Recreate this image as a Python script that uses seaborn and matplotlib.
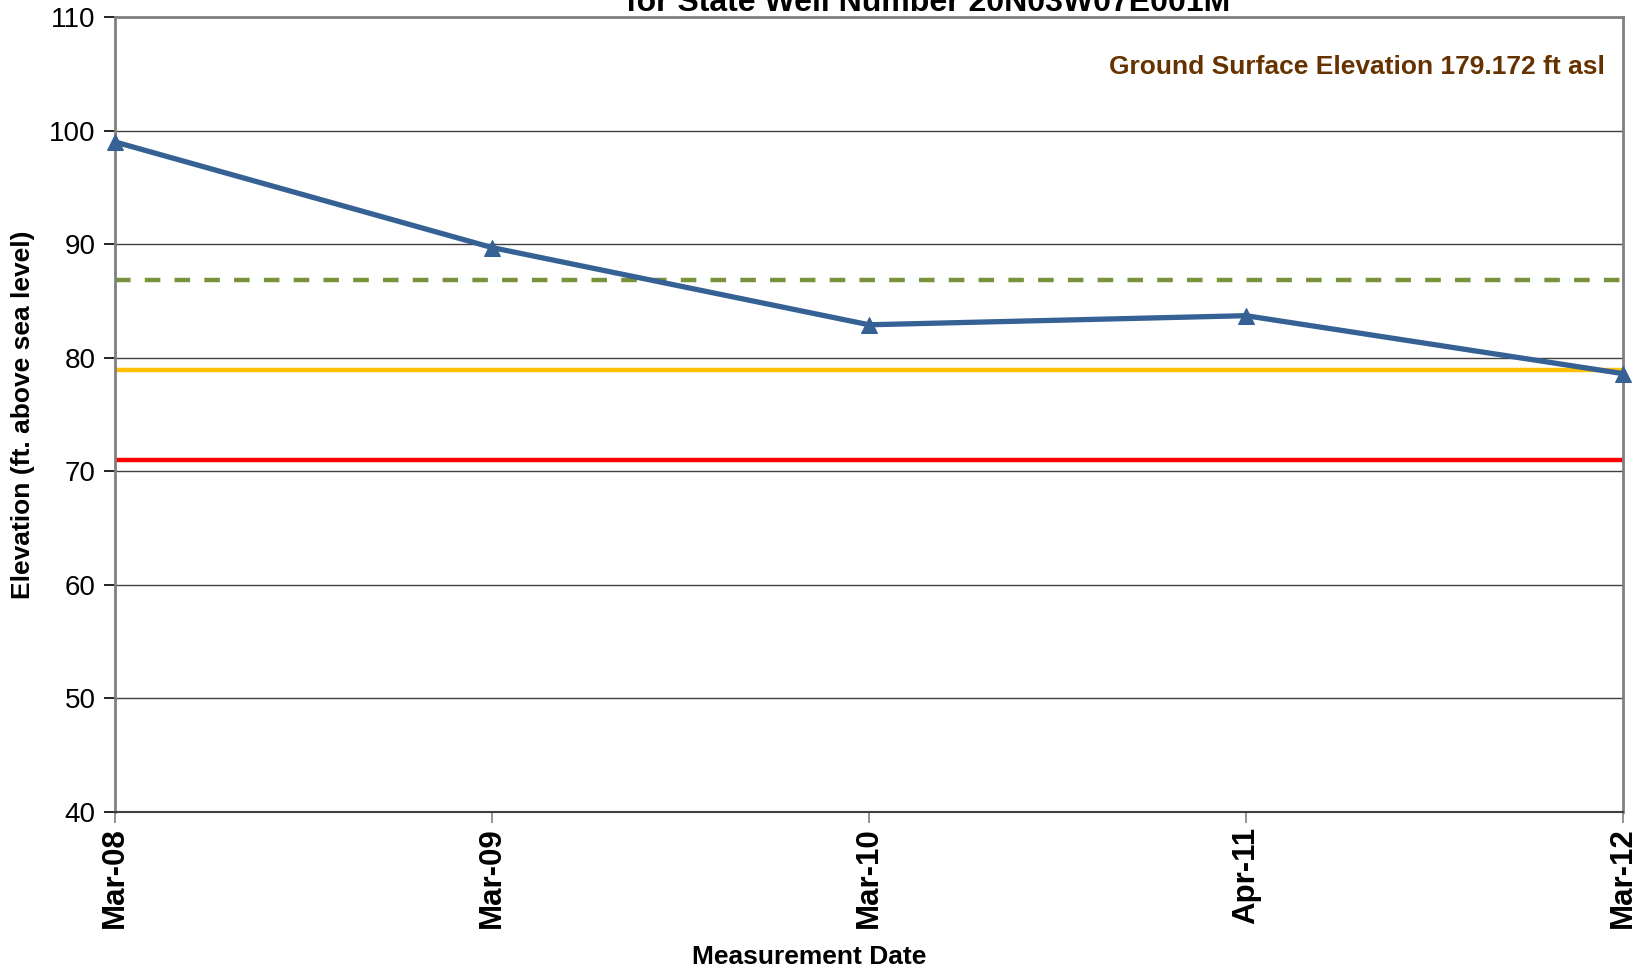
import matplotlib
matplotlib.use("Agg")
import matplotlib.pyplot as plt
import seaborn as sns
import pandas as pd

# Measurement dates and groundwater elevations (ft above sea level)
dates = ["Mar-08", "Mar-09", "Mar-10", "Apr-11", "Mar-12"]
elevations = [99.0, 89.7, 82.9, 83.7, 78.6]

# Reference levels
green_level = 86.8
yellow_level = 78.9
red_level = 71.0

y_ticks = [40, 50, 60, 70, 80, 90, 100, 110]

sns.set_theme(style="white")
plt.rcParams["font.family"] = ["Liberation Sans", "DejaVu Sans"]
plt.rcParams["text.color"] = "black"
plt.rcParams["axes.labelcolor"] = "black"

fig = plt.figure(figsize=(16.43, 9.72), dpi=100)
ax = fig.add_axes([115 / 1643, 1 - 812 / 972, (1623 - 115) / 1643, (812 - 17) / 972])

df = pd.DataFrame({"pos": range(len(dates)), "elev": elevations})

for y in y_ticks:
    ax.axhline(y, color="#404040", lw=1.0, zorder=1)

ax.axhline(green_level, color="#77933C", lw=3.2, ls=(0, (3.5, 3.2)), zorder=2)
ax.axhline(yellow_level, color="#FFC000", lw=3.2, zorder=2)
ax.axhline(red_level, color="#FF0000", lw=3.2, zorder=2)

sns.lineplot(data=df, x="pos", y="elev", ax=ax, color="#356195", lw=3.8,
             marker="^", markersize=11, markeredgecolor="#356195",
             zorder=4, clip_on=False)

ax.set_xlim(0, len(dates) - 1)
ax.set_ylim(40, 110)
ax.set_yticks(y_ticks)
ax.set_yticklabels([str(v) for v in y_ticks], fontsize=20)
ax.set_xticks(range(len(dates)))
ax.set_xticklabels(dates, rotation=90, fontsize=22.5, fontweight="bold")

ax.tick_params(axis="y", which="major", left=True, length=8, width=1.2,
               color="black", labelcolor="black", pad=6)
ax.tick_params(axis="x", which="major", bottom=True, length=8, width=1.2,
               color="#808080", labelcolor="black", pad=3)

for side in ["left", "right", "top"]:
    ax.spines[side].set_color("#808080")
    ax.spines[side].set_linewidth(2.0)
ax.spines["bottom"].set_color("#404040")
ax.spines["bottom"].set_linewidth(1.5)

ax.set_xlabel("")
ax.set_ylabel("Elevation (ft. above sea level)", fontsize=19, fontweight="bold",
              labelpad=10)

fig.text(809 / 1643, 1 - 957 / 972, "Measurement Date", ha="center",
         va="center", fontsize=19, fontweight="bold")

ax.text(0.988, 0.937, "Ground Surface Elevation 179.172 ft asl",
        transform=ax.transAxes, ha="right", va="center", fontsize=19,
        fontweight="bold", color="#663300")

fig.text(928 / 1643, 1 - 11 / 972,
         "Groundwater Elevation Hydrograph\nfor State Well Number 20N03W07E001M",
         ha="center", va="baseline", fontsize=23, fontweight="bold",
         linespacing=1.1)

fig.savefig("out.png", dpi=100)
